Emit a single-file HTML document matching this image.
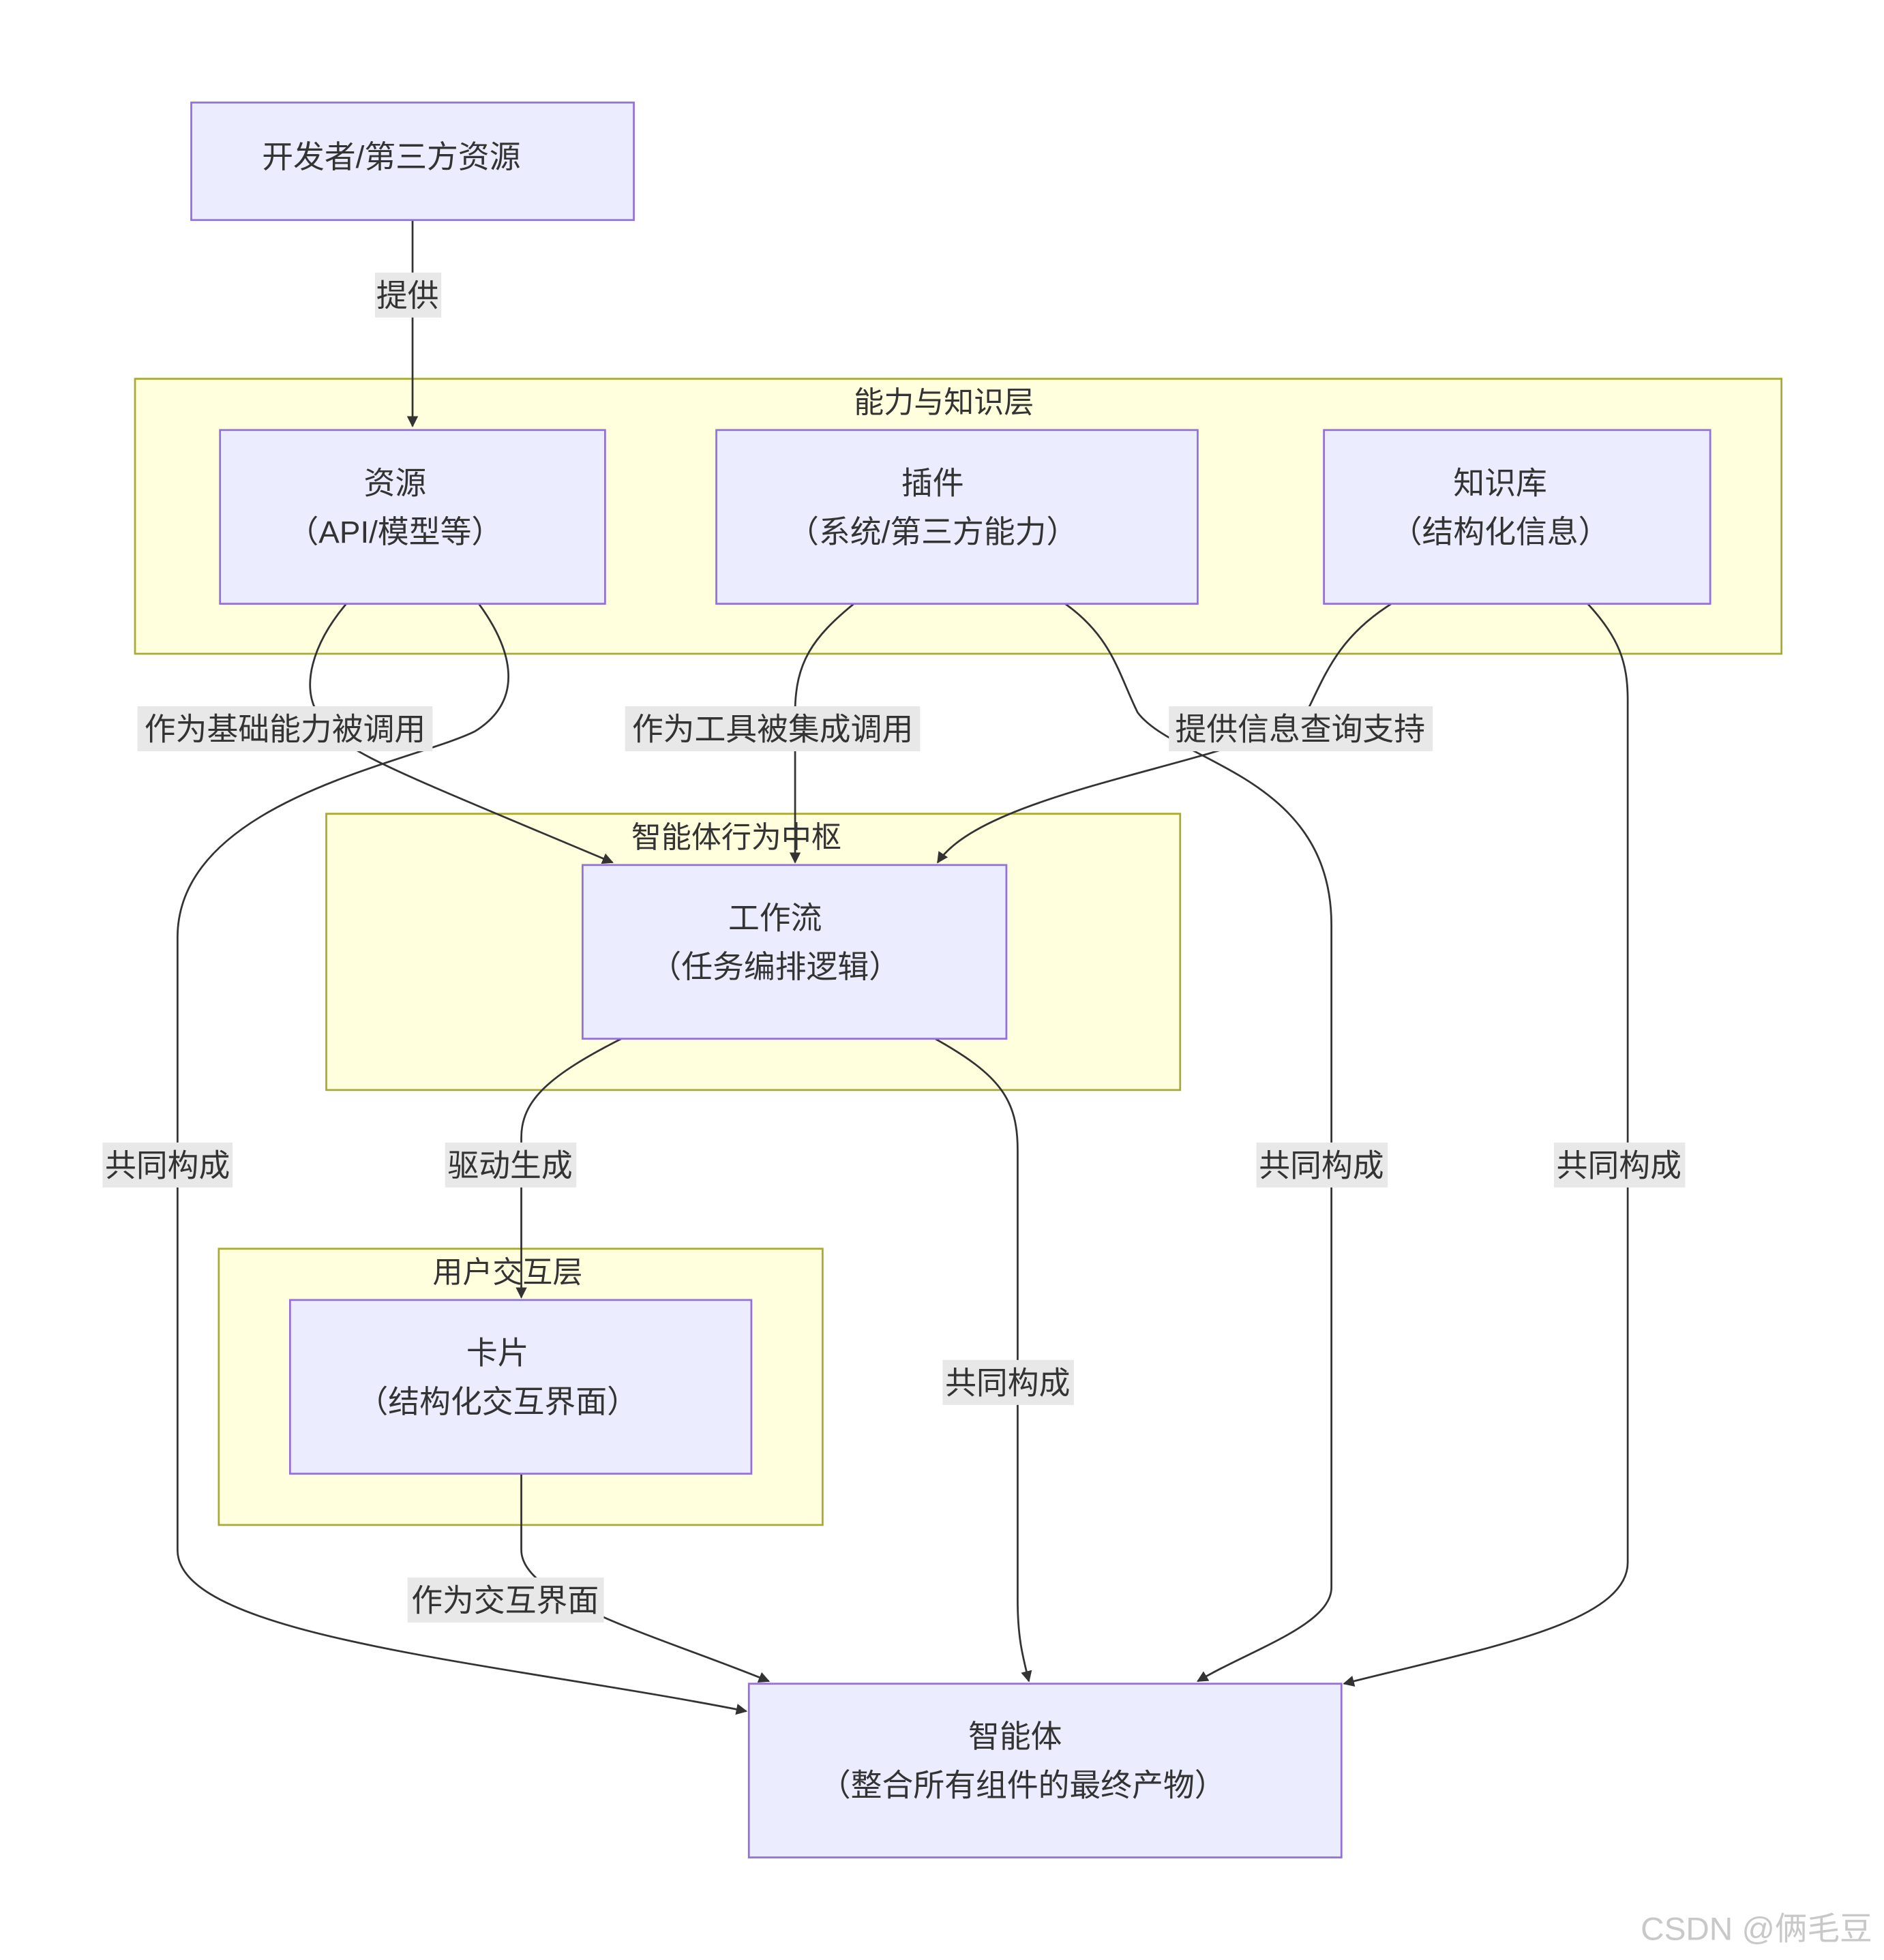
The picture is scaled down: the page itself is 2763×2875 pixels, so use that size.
<!DOCTYPE html>
<html><head><meta charset="utf-8">
<style>
html,body{margin:0;padding:0;background:#fff;}
svg{display:block;}
text{font-family:"Liberation Sans","Noto Sans CJK SC",sans-serif;fill:#333;}
</style></head>
<body>
<svg width="2763" height="2875" viewBox="0 0 1507 1568" xmlns="http://www.w3.org/2000/svg">
<defs>
<marker id="ah" viewBox="0 0 10 10" refX="9" refY="5" markerWidth="6" markerHeight="6" orient="auto">
<path d="M0,0 L10,5 L0,10 z" fill="#333"/>
</marker>
</defs>
<rect width="1507" height="1568" fill="#fff"/>
<!-- clusters -->
<rect x="108" y="303" width="1317" height="220" fill="#FFFFDE" stroke="#AAAA33" stroke-width="1.5"/>
<text x="755" y="330" font-size="24" text-anchor="middle">能力与知识层</text>
<rect x="261" y="651" width="683" height="221" fill="#FFFFDE" stroke="#AAAA33" stroke-width="1.5"/>
<text x="589" y="678" font-size="24" text-anchor="middle">智能体行为中枢</text>
<rect x="175" y="999" width="483" height="221" fill="#FFFFDE" stroke="#AAAA33" stroke-width="1.5"/>
<text x="406" y="1026" font-size="24" text-anchor="middle">用户交互层</text>

<!-- edges -->
<g fill="none" stroke="#333" stroke-width="1.5">
<path d="M330,176 L330,341" marker-end="url(#ah)"/>
<path d="M277,483 C250,515 240,550 255,572 C270,600 300,610 490,690" marker-end="url(#ah)"/>
<path d="M383,483 C410,520 420,560 380,585 C330,610 142,640 142,750 L142,1240 C142,1310 400,1330 597,1369" marker-end="url(#ah)"/>
<path d="M683,483 C650,510 636,530 636,570 L636,690" marker-end="url(#ah)"/>
<path d="M852,483 C890,510 895,540 910,570 C940,610 1065,620 1065,740 L1065,1270 C1065,1300 1000,1320 958,1345" marker-end="url(#ah)"/>
<path d="M1113,483 C1070,510 1060,540 1045,570 C1000,610 790,630 750,690" marker-end="url(#ah)"/>
<path d="M1270,483 C1295,510 1302,530 1302,560 L1302,1250 C1302,1300 1180,1320 1075,1347" marker-end="url(#ah)"/>
<path d="M497,831 C440,860 417,880 417,910 L417,1038" marker-end="url(#ah)"/>
<path d="M748,831 C800,860 814,880 814,920 L814,1280 C814,1310 818,1325 823,1345" marker-end="url(#ah)"/>
<path d="M417,1179 L417,1240 C417,1280 530,1310 615,1345" marker-end="url(#ah)"/>
</g>

<!-- nodes -->
<g fill="#ECECFF" stroke="#9370DB" stroke-width="1.5">
<rect x="153" y="82" width="354" height="94"/>
<rect x="176" y="344" width="308" height="139"/>
<rect x="573" y="344" width="385" height="139"/>
<rect x="1059" y="344" width="309" height="139"/>
<rect x="466" y="692" width="339" height="139"/>
<rect x="232" y="1040" width="369" height="139"/>
<rect x="599" y="1347" width="474" height="139"/>
</g>
<g font-size="25" text-anchor="middle">
<text x="313" y="134">开发者/第三方资源</text>
<text x="316" y="395">资源</text><text x="316" y="434">（API/模型等）</text>
<text x="746" y="395">插件</text><text x="746" y="434">（系统/第三方能力）</text>
<text x="1200" y="395">知识库</text><text x="1200" y="434">（结构化信息）</text>
<text x="620" y="743">工作流</text><text x="620" y="782">（任务编排逻辑）</text>
<text x="398" y="1091">卡片</text><text x="398" y="1130">（结构化交互界面）</text>
<text x="812" y="1398">智能体</text><text x="818" y="1437">（整合所有组件的最终产物）</text>
</g>

<!-- edge labels -->
<g fill="#e8e8e8">
<rect x="300" y="218" width="53" height="36"/>
<rect x="110" y="565" width="236" height="36"/>
<rect x="500" y="565" width="236" height="36"/>
<rect x="935" y="565" width="211" height="36"/>
<rect x="82" y="914" width="104" height="36"/>
<rect x="356" y="914" width="105" height="36"/>
<rect x="1005" y="914" width="105" height="36"/>
<rect x="1243" y="914" width="105" height="36"/>
<rect x="754" y="1088" width="105" height="36"/>
<rect x="326" y="1262" width="157" height="36"/>
</g>
<g font-size="25" text-anchor="middle">
<text x="326" y="245">提供</text>
<text x="228" y="592">作为基础能力被调用</text>
<text x="618" y="592">作为工具被集成调用</text>
<text x="1040" y="592">提供信息查询支持</text>
<text x="134" y="941">共同构成</text>
<text x="408" y="941">驱动生成</text>
<text x="1057" y="941">共同构成</text>
<text x="1295" y="941">共同构成</text>
<text x="806" y="1115">共同构成</text>
<text x="404" y="1289">作为交互界面</text>
</g>
<text x="1405" y="1552" font-size="26" text-anchor="middle" style="fill:#c8c8c8">CSDN @俩毛豆</text>
</svg>
</body></html>
